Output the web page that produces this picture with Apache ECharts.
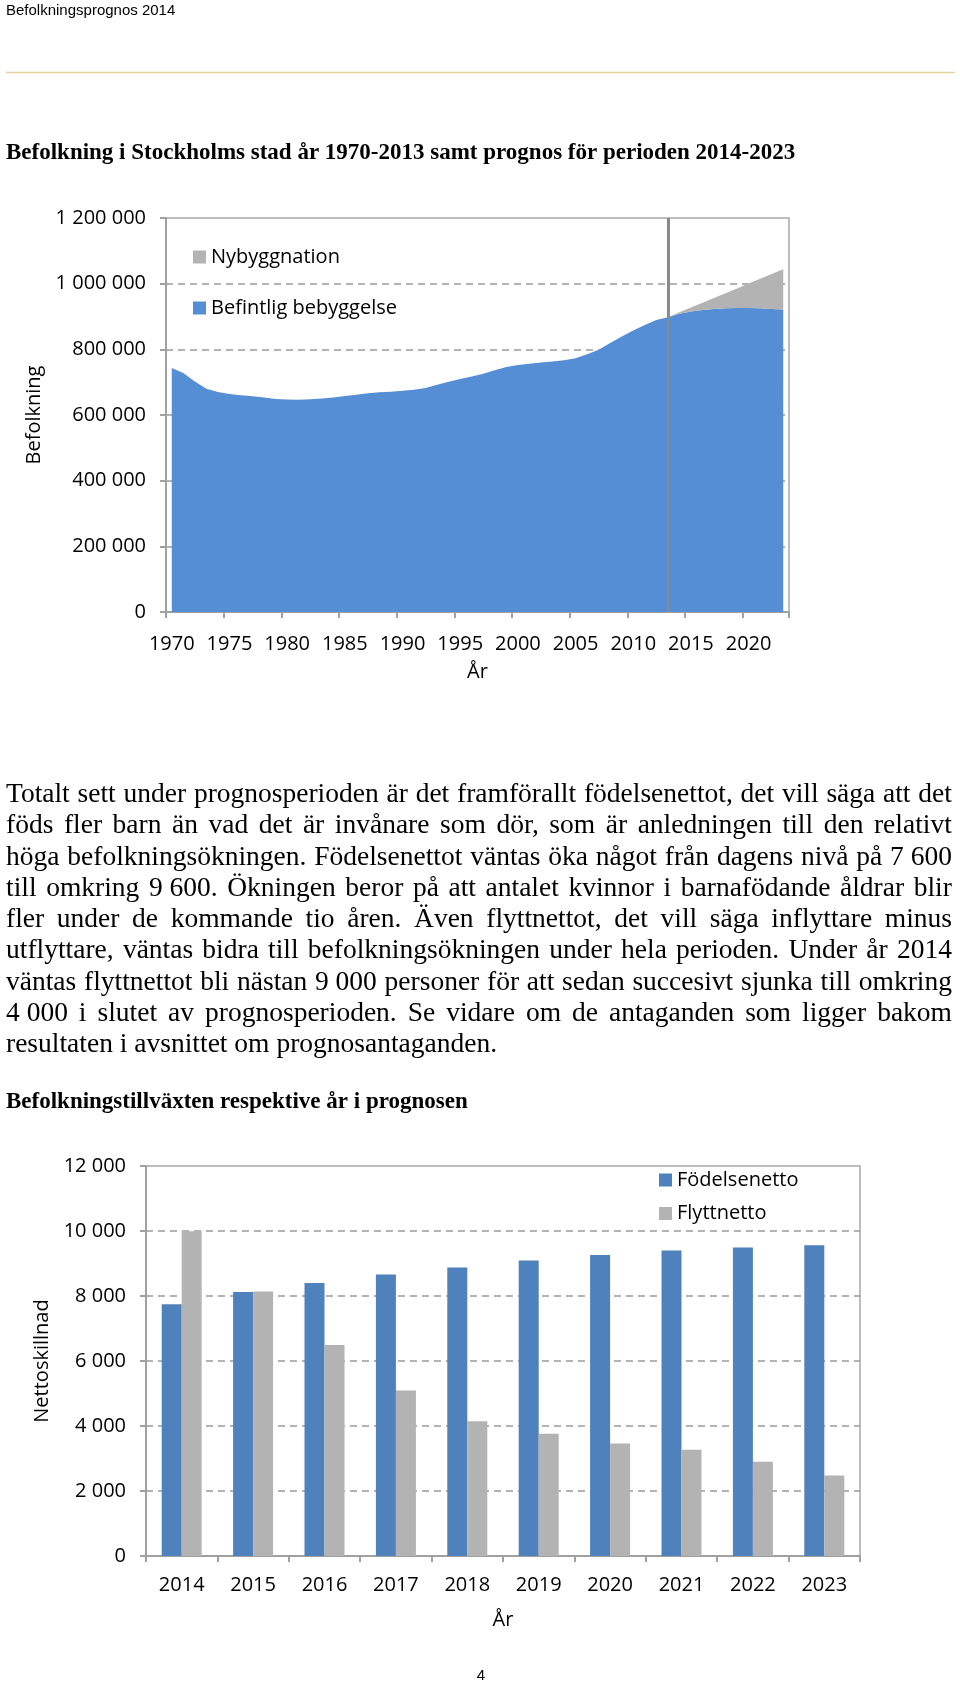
<!DOCTYPE html>
<html>
<head>
<meta charset="utf-8">
<script src="https://cdn.jsdelivr.net/npm/echarts@6/dist/echarts.min.js"></script>
<style>
  html, body { margin:0; padding:0; background:#fff; }
  #page { position:relative; width:960px; height:1685px; overflow:hidden; }
  #chart { position:absolute; left:0; top:0; width:960px; height:1685px; }
  #para { position:absolute; left:6px; top:777px; width:946px; font-family:'Liberation Serif','Times New Roman',serif; font-size:27.5px; line-height:31.25px; color:#000; }
  .ln { display:flex; justify-content:space-between; white-space:nowrap; height:31.25px; }
  .ln.last { justify-content:flex-start; }
  .ln.last span { margin-right:0.25em; }
</style>
</head>
<body>
<div id="page">
  <div id="chart"></div>
  <div id="para"></div>
</div>
<script>
// ---------- Chart 1 data ----------
var years1 = ['1970','1971','1972','1973','1974','1975','1976','1977','1978','1979',
  '1980','1981','1982','1983','1984','1985','1986','1987','1988','1989',
  '1990','1991','1992','1993','1994','1995','1996','1997','1998','1999',
  '2000','2001','2002','2003','2004','2005','2006','2007','2008','2009',
  '2010','2011','2012','2013','2014','2015','2016','2017','2018','2019',
  '2020','2021','2022','2023'];
var befintligBebyggelse = [743000,728000,702000,680000,670000,664000,660000,657000,653000,649000,
  647000,646500,648000,650000,653000,658000,662000,666000,669000,671000,
  674000,677000,682000,692000,701000,710000,717000,726000,736000,746000,
  752000,756000,760000,763000,767000,773000,785000,799000,819000,839000,
  857000,874000,889000,898000,908000,915000,920000,923000,925000,926000,
  926000,925000,923000,921000];
var nybyggnation = [null,null,null,null,null,null,null,null,null,null,
  null,null,null,null,null,null,null,null,null,null,
  null,null,null,null,null,null,null,null,null,null,
  null,null,null,null,null,null,null,null,null,null,
  null,null,null,0,4600,12200,21800,33400,46000,59600,
  74200,89800,106400,123000];
var prognosStart = '2013';
var yTicks1 = { min:0, max:1200000, interval:200000 };

// ---------- Chart 2 data ----------
var years2 = ['2014','2015','2016','2017','2018','2019','2020','2021','2022','2023'];
var fodelsenetto = [7750,8120,8400,8660,8880,9090,9260,9400,9490,9560];
var flyttnetto = [9990,8140,6490,5090,4150,3760,3460,3270,2900,2480];
var yTicks2 = { min:0, max:12000, interval:2000 };

// ---------- Text ----------
var paraLines = [
  'Totalt sett under prognosperioden är det framförallt födelsenettot, det vill säga att det',
  'föds fler barn än vad det är invånare som dör, som är anledningen till den relativt',
  'höga befolkningsökningen. Födelsenettot väntas öka något från dagens nivå på 7\u00a0600',
  'till omkring 9\u00a0600. Ökningen beror på att antalet kvinnor i barnafödande åldrar blir',
  'fler under de kommande tio åren. Även flyttnettot, det vill säga inflyttare minus',
  'utflyttare, väntas bidra till befolkningsökningen under hela perioden. Under år 2014',
  'väntas flyttnettot bli nästan 9\u00a0000 personer för att sedan succesivt sjunka till omkring',
  '4\u00a0000 i slutet av prognosperioden. Se vidare om de antaganden som ligger bakom',
  'resultaten i avsnittet om prognosantaganden.'
];

var para = document.getElementById('para');
paraLines.forEach(function (l, i) {
  var d = document.createElement('div');
  d.className = 'ln' + (i === paraLines.length - 1 ? ' last' : '');
  l.split(' ').forEach(function (w) {
    var s = document.createElement('span');
    s.textContent = w;
    d.appendChild(s);
  });
  para.appendChild(d);
});

function fmt(v) { return String(v).replace(/\B(?=(\d{3})+(?!\d))/g, ' '); }

var FONT = 'Open Sans';
var axisGray = '#A0A0A0';
var labelStyle = { color:'#000', fontFamily:FONT, fontSize:20 };
var splitDash = { show:true, showMaxLine:false, lineStyle:{ color:'#9a9a9a', width:1.5, type:[7,5] } };

var chart = echarts.init(document.getElementById('chart'), null, { renderer:'canvas' });
chart.setOption({
  animation:false,
  backgroundColor:'#fff',
  graphic:[
    { type:'text', x:6, y:11, style:{ text:'Befolkningsprognos 2014', font:'15px "Liberation Sans"', fill:'#000', verticalAlign:'middle' } },
    { type:'line', shape:{ x1:6, y1:72.5, x2:955, y2:72.5 }, style:{ stroke:'#E3D49C', lineWidth:1.5 } },
    { type:'text', x:6, y:153, style:{ text:'Befolkning i Stockholms stad år 1970-2013 samt prognos för perioden 2014-2023', font:'bold 23px "Liberation Serif"', fill:'#000', verticalAlign:'middle' } },
    { type:'text', x:6, y:1102, style:{ text:'Befolkningstillväxten respektive år i prognosen', font:'bold 23px "Liberation Serif"', fill:'#000', verticalAlign:'middle' } },
    { type:'text', x:481, y:1676, style:{ text:'4', font:'15px "Liberation Sans"', fill:'#000', align:'center', verticalAlign:'middle' } }
  ],
  grid:[
    { left:166, top:218, width:623, height:394, show:true, borderColor:'#A8A8A8', borderWidth:1.5, backgroundColor:'transparent' },
    { left:146, top:1166, width:714, height:390, show:true, borderColor:'#A8A8A8', borderWidth:1.5, backgroundColor:'transparent' }
  ],
  legend:[
    { data:['Nybyggnation','Befintlig bebyggelse'], orient:'vertical', left:193, top:247, padding:0,
      itemWidth:13, itemHeight:13, itemGap:31, icon:'rect', textStyle:labelStyle, selectedMode:false },
    { data:['Födelsenetto','Flyttnetto'], orient:'vertical', left:659, top:1170, padding:0,
      itemWidth:13, itemHeight:13, itemGap:13.5, icon:'rect', textStyle:labelStyle, selectedMode:false }
  ],
  xAxis:[
    { gridIndex:0, type:'category', data:years1, boundaryGap:true,
      axisLine:{ show:true, lineStyle:{ color:axisGray, width:2 } },
      axisTick:{ show:true, interval:4, length:6, lineStyle:{ color:axisGray, width:2 } },
      axisLabel:{ interval:4, margin:22, color:'#000', fontFamily:FONT, fontSize:20 },
      splitLine:{ show:false },
      name:'År', nameLocation:'middle', nameGap:50, nameTextStyle:labelStyle },
    { gridIndex:1, type:'category', data:years2, boundaryGap:true,
      axisLine:{ show:true, lineStyle:{ color:axisGray, width:2 } },
      axisTick:{ show:true, interval:0, length:6, lineStyle:{ color:axisGray, width:2 } },
      axisLabel:{ interval:0, margin:19, color:'#000', fontFamily:FONT, fontSize:20 },
      splitLine:{ show:false },
      name:'År', nameLocation:'middle', nameGap:54, nameTextStyle:labelStyle }
  ],
  yAxis:[
    { gridIndex:0, type:'value', min:yTicks1.min, max:yTicks1.max, interval:yTicks1.interval,
      axisLine:{ show:true, lineStyle:{ color:axisGray, width:2 } },
      axisTick:{ show:true, length:6, lineStyle:{ color:axisGray, width:2 } },
      axisLabel:{ margin:20, color:'#000', fontFamily:FONT, fontSize:20, formatter:fmt },
      splitLine:splitDash,
      name:'Befolkning', nameLocation:'middle', nameGap:121, nameRotate:90, nameTextStyle:labelStyle },
    { gridIndex:1, type:'value', min:yTicks2.min, max:yTicks2.max, interval:yTicks2.interval,
      axisLine:{ show:true, lineStyle:{ color:axisGray, width:2 } },
      axisTick:{ show:true, length:6, lineStyle:{ color:axisGray, width:2 } },
      axisLabel:{ margin:20, color:'#000', fontFamily:FONT, fontSize:20, formatter:fmt },
      splitLine:splitDash,
      name:'Nettoskillnad', nameLocation:'middle', nameGap:94, nameRotate:90, nameTextStyle:labelStyle }
  ],
  series:[
    { name:'Befintlig bebyggelse', type:'line', xAxisIndex:0, yAxisIndex:0, stack:'pop',
      data:befintligBebyggelse, showSymbol:false, symbol:'none',
      lineStyle:{ width:0 }, areaStyle:{ color:'#558ED5', opacity:1 }, itemStyle:{ color:'#558ED5' } },
    { name:'Nybyggnation', type:'line', xAxisIndex:0, yAxisIndex:0, stack:'pop',
      data:nybyggnation, showSymbol:false, symbol:'none',
      lineStyle:{ width:0 }, areaStyle:{ color:'#B3B3B3', opacity:1 }, itemStyle:{ color:'#B3B3B3' },
      markLine:{ silent:true, symbol:'none', label:{ show:false },
        lineStyle:{ color:'#8A8A8A', width:3, type:'solid' },
        data:[ { xAxis:prognosStart } ] } },
    { name:'Födelsenetto', type:'bar', xAxisIndex:1, yAxisIndex:1, data:fodelsenetto,
      barWidth:20, barGap:'0%', itemStyle:{ color:'#4F81BD' } },
    { name:'Flyttnetto', type:'bar', xAxisIndex:1, yAxisIndex:1, data:flyttnetto,
      barWidth:20, barGap:'0%', itemStyle:{ color:'#B3B3B3' } }
  ]
});
</script>
</body>
</html>
